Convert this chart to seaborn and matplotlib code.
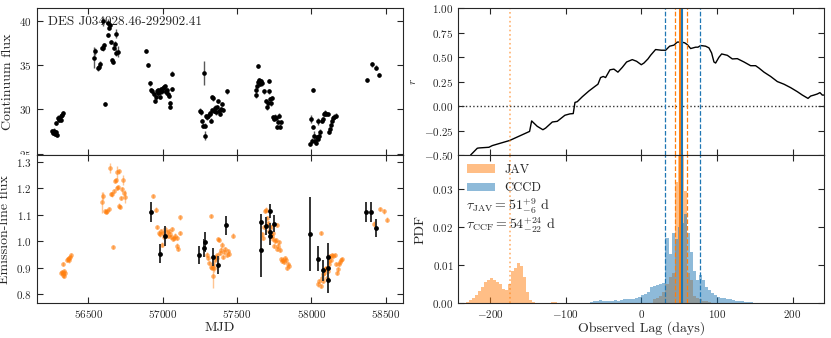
import numpy as np
import pandas as pd
import matplotlib
matplotlib.use('Agg')
import matplotlib.pyplot as plt
import matplotlib.transforms as mtransforms
import seaborn as sns

sns.set_style('ticks')
plt.rcParams['font.family'] = 'serif'
plt.rcParams['font.serif'] = ['cmr10']
plt.rcParams['mathtext.fontset'] = 'cm'
plt.rcParams['axes.formatter.use_mathtext'] = True
plt.rcParams['xtick.direction'] = 'in'
plt.rcParams['ytick.direction'] = 'in'
plt.rcParams['xtick.top'] = True
plt.rcParams['ytick.right'] = True
plt.rcParams['axes.edgecolor'] = '0.15'

ORANGE = '#ff7f0e'
BLUE = '#1f77b4'

# continuum light curve
cont_mjd = [56258, 56265, 56271, 56278, 56285, 56292, 56280, 56296, 56305, 56314, 56323, 56330, 56318, 56300,
            56538, 56545, 56563, 56572, 56581, 56590, 56599, 56608, 56612, 56599, 56630, 56639, 56645, 56652,
            56661, 56666, 56675, 56680, 56684, 56688, 56698, 56630,
            56888, 56903, 56913, 56922, 56930, 56940, 56949, 56955, 56962, 56971, 56980, 56989, 56998, 57007,
            57016, 57025, 57034, 57043, 57047, 57051, 57061, 57065, 56968, 56985, 57002, 57020, 57030,
            57278, 57251, 57256, 57263, 57273, 57285, 57285, 57298, 57307, 57316, 57325, 57330, 57341, 57347,
            57357, 57363, 57370, 57379, 57388, 57397, 57408, 57431, 57290, 57320, 57335, 57352, 57395,
            57643, 57626, 57630, 57635, 57639, 57648, 57655, 57661, 57666, 57684, 57693, 57700, 57706, 57715,
            57717, 57722, 57729, 57733, 57744, 57751, 57755, 57762, 57769, 57778, 57789, 57799, 57781,
            58013, 57996, 57991, 58002, 58009, 58018, 58024, 58031, 58038, 58043, 58047, 58054, 58060, 58070,
            58076, 58083, 58092, 58101, 58110, 58118, 58125, 58132, 58141, 58148, 58155, 58164,
            58372, 58410, 58433, 58455]
cont_flux = [27.50, 27.31, 27.61, 27.24, 27.43, 27.13, 28.47, 29.07, 28.99, 29.22, 29.37, 29.55, 28.84, 28.84,
             35.82, 36.56, 34.62, 34.77, 35.15, 36.94, 36.86, 37.23, 30.59, 39.92, 38.35, 39.18, 39.47, 37.61,
             35.52, 35.33, 36.94, 37.39, 38.51, 36.38, 36.49, 39.74,
             36.56, 35.00, 32.91, 32.16, 32.02, 31.71, 30.96, 31.34, 32.02, 32.16, 31.90, 32.27, 32.02, 32.53,
             32.64, 32.02, 31.71, 31.52, 30.67, 30.29, 32.27, 34.03, 31.80, 31.40, 32.40, 31.90, 32.20,
             34.14, 29.84, 29.66, 28.66, 28.16, 28.16, 27.04, 29.10, 29.28, 29.47, 28.72, 31.41, 31.23, 29.84,
             29.66, 30.29, 30.96, 29.84, 29.47, 30.59, 29.92, 32.02, 29.20, 29.60, 29.90, 30.20, 30.00,
             34.88, 32.16, 31.64, 32.64, 33.02, 33.28, 32.83, 33.14, 32.91, 32.02, 30.96, 30.22, 30.67, 32.02,
             33.20, 31.15, 30.67, 31.27, 29.10, 28.91, 29.17, 29.03, 27.98, 28.54, 28.05, 28.54, 29.28,
             32.16, 28.91, 26.11, 26.48, 27.98, 27.04, 26.48, 26.19, 26.86, 28.66, 26.67, 27.04, 27.49, 28.66,
             28.91, 29.47, 29.55, 29.47, 29.47, 27.42, 27.79, 28.28, 28.72, 29.03, 29.17, 29.28,
             33.32, 35.07, 34.70, 33.84]
cont_err = [0.25] * len(cont_flux)
for i, e in [(14, 1.15), (15, 0.4), (23, 0.5), (32, 0.5), (33, 0.4), (34, 0.6), (35, 0.4),
             (63, 1.35), (69, 0.5), (92, 0.4), (118, 0.45), (122, 0.5), (126, 0.4), (133, 0.35)]:
    cont_err[i] = e

# emission-line light curve (photometric, orange)
line_mjd = [56316, 56323, 56327, 56332, 56339, 56336, 56343, 56332, 56354, 56361, 56368, 56372, 56377, 56381,
            56590, 56596, 56612, 56619, 56628, 56637, 56646, 56652, 56661, 56668, 56673, 56679, 56686, 56691,
            56695, 56700, 56704, 56709, 56713, 56720, 56726, 56733, 56740, 56747,
            56937, 56953, 56964, 56975, 56982, 56991, 56998, 57004, 57011, 57018, 57027, 57034, 57040, 57049,
            57056, 57063, 57072, 57078, 57085, 57094, 57099, 57103, 57117, 57119,
            57300, 57307, 57314, 57323, 57327, 57332, 57336, 57341, 57347, 57354, 57359, 57363, 57368, 57374,
            57381, 57388, 57392, 57399, 57408, 57415, 57421, 57430, 57437, 57444, 57475,
            57666, 57677, 57682, 57688, 57695, 57699, 57706, 57713, 57717, 57726, 57733, 57740, 57744, 57749,
            57755, 57762, 57767, 57771, 57778, 57782, 57789, 57794, 57800, 57807, 57816, 57823, 57830, 57838,
            57845, 57852,
            58047, 58054, 58063, 58065, 58069, 58076, 58081, 58085, 58092, 58099, 58103, 58110, 58116, 58121,
            58125, 58132, 58139, 58148, 58159, 58166, 58175, 58182, 58188, 58193, 58199, 58206,
            58424, 58462, 58489, 58507]
line_flux = [0.879, 0.884, 0.871, 0.881, 0.869, 0.887, 0.879, 0.913, 0.931, 0.934, 0.938, 0.928, 0.942, 0.947,
             1.148, 1.170, 1.114, 1.110, 1.113, 1.123, 1.277, 1.180, 1.177, 0.978, 1.189, 1.227, 1.231, 1.261,
             1.202, 1.206, 1.264, 1.135, 1.130, 1.164, 1.196, 1.231, 1.183, 1.168,
             1.170, 1.120, 1.055, 1.030, 1.026, 1.038, 0.988, 1.032, 1.017, 1.045, 1.035, 1.022, 1.038, 1.026,
             1.017, 1.045, 1.009, 1.013, 1.022, 1.013, 0.984, 0.972, 1.032, 1.090,
             0.950, 0.938, 0.919, 0.904, 1.095, 0.900, 0.869, 0.913, 0.900, 0.931, 0.942, 0.947, 0.938, 1.009,
             1.004, 0.957, 0.969, 0.988, 0.942, 0.959, 0.972, 0.947, 0.963, 0.954, 1.022,
             1.026, 1.013, 1.055, 1.114, 1.120, 1.089, 1.070, 1.057, 1.038, 1.055, 1.022, 1.032, 1.009, 0.982,
             1.001, 1.004, 1.063, 0.972, 0.984, 0.997, 0.969, 0.934, 0.925, 0.931, 0.921, 0.938, 0.929, 0.900,
             0.913, 0.906,
             0.837, 0.850, 0.831, 1.032, 0.862, 0.875, 0.850, 0.881, 0.894, 0.900, 0.862, 0.887, 0.913, 0.925,
             0.944, 0.931, 0.947, 0.944, 0.947, 0.913, 0.879, 0.894, 0.913, 0.921, 0.929, 0.934,
             1.067, 1.123, 1.113, 1.082]
line_err = [0.008] * len(line_flux)
for i, e in [(14, 0.04), (15, 0.015), (20, 0.02), (27, 0.025), (35, 0.02), (37, 0.025),
             (68, 0.045), (70, 0.015), (129, 0.012)]:
    line_err[i] = e

# emission-line fluxes from spectra (black)
spec_mjd = [56919, 56982, 57016, 57247, 57282, 57280, 57341, 57372, 57426, 57659, 57659, 57693, 57722,
            57722, 57722, 57749, 57991, 58047, 58076, 58110, 58110, 58114, 58368, 58401, 58433]
spec_flux = [1.110, 0.954, 1.019, 0.948, 0.997, 0.975, 0.940, 0.910, 1.060, 1.074, 0.968, 1.057, 1.114,
             1.035, 1.022, 1.067, 1.028, 0.935, 0.890, 0.940, 0.900, 0.853, 1.110, 1.110, 1.051]
spec_err = [0.037, 0.037, 0.038, 0.035, 0.038, 0.035, 0.035, 0.035, 0.036, 0.028, 0.104, 0.033, 0.027,
            0.035, 0.036, 0.033, 0.140, 0.047, 0.038, 0.055, 0.047, 0.050, 0.038, 0.038, 0.034]

# cross-correlation function
ccf_lag = [-225.7, -216.9, -214.7, -201.5, -197.1, -174.2, -147.7, -145.0, -137.6, -130.1, -126.5, -117.7,
           -111.1, -101.0, -94.4, -90.0, -87.7, -84.7, -78.0, -69.2, -61.7, -57.3, -53.8, -50.3, -47.2,
           -41.4, -36.2, -30.9, -25.1, -19.4, -11.9, -6.2, 0.0, 3.5, 8.8, 12.3, 18.9, 26.5, 32.2, 37.5,
           43.2, 47.6, 52.9, 57.3, 60.8, 65.3, 71.9, 75.0, 78.5, 85.1, 89.5, 93.0, 96.1, 98.3, 102.7, 106.3,
           113.8, 120.4, 127.0, 135.8, 144.6, 151.2, 155.6, 162.3, 171.1, 179.9, 188.7, 197.5, 206.3, 213.0,
           220.5, 224.0, 228.4, 232.8, 236.3, 239.4, 242.9]
ccf_r = [-0.500, -0.431, -0.428, -0.421, -0.404, -0.352, -0.259, -0.152, -0.207, -0.242, -0.225, -0.163,
         -0.156, -0.094, -0.080, -0.077, 0.037, 0.044, 0.095, 0.154, 0.198, 0.223, 0.291, 0.302, 0.291,
         0.370, 0.377, 0.346, 0.395, 0.450, 0.474, 0.457, 0.422, 0.439, 0.481, 0.518, 0.577, 0.570, 0.570,
         0.611, 0.622, 0.653, 0.653, 0.646, 0.628, 0.587, 0.601, 0.601, 0.618, 0.611, 0.594, 0.542, 0.450,
         0.439, 0.498, 0.532, 0.518, 0.481, 0.484, 0.450, 0.412, 0.412, 0.388, 0.346, 0.302, 0.250, 0.223,
         0.188, 0.147, 0.112, 0.078, 0.102, 0.112, 0.123, 0.137, 0.112, 0.112]

# lag distributions (bin centres, 4 d bins)
jav_lag = [-230, -226, -222, -218, -214, -210, -206, -202, -198, -194, -190, -186, -182, -178, -174, -170,
           -166, -162, -158, -154, -150, -146, -142, -138, -134, -130, -118, -114, -102,
           18, 22, 26, 30, 34, 38, 42, 46, 50, 54, 58, 62, 66, 70, 74, 78, 82, 86, 90, 162, 170]
jav_pdf = [0.0004, 0.0008, 0.0013, 0.0021, 0.0033, 0.0044, 0.0055, 0.0062, 0.0066, 0.0061, 0.0056, 0.0050,
           0.0038, 0.0036, 0.0052, 0.0084, 0.0094, 0.0106, 0.0098, 0.0070, 0.0030, 0.0009, 0.0004, 0.0002,
           0.0001, 0.0001, 0.0004, 0.0003, 0.0001,
           0.0010, 0.0015, 0.0020, 0.0030, 0.0050, 0.0070, 0.0080, 0.0320, 0.0500, 0.0500, 0.0295, 0.0080,
           0.0060, 0.0020, 0.0015, 0.0010, 0.0007, 0.0005, 0.0003, 0.0002, 0.0002]
cccd_lag = [-66, -62, -58, -54, -50, -46, -42, -38, -34, -30, -26, -22, -18, -14, -10, -6, -2, 2, 6, 10,
            14, 18, 22, 26, 30, 34, 38, 42, 46, 50, 54, 58, 62, 66, 70, 74, 78, 82, 86, 90, 94, 98, 102,
            106, 110, 114, 118, 122, 126, 130, 134, 138, 142, 146, 150, 154, 158, 162, 166]
cccd_pdf = [0.0003, 0.0005, 0.0007, 0.0008, 0.0007, 0.0006, 0.0005, 0.0006, 0.0008, 0.0007, 0.0009, 0.0010,
            0.0011, 0.0010, 0.0012, 0.0014, 0.0016, 0.0021, 0.0025, 0.0030, 0.0042, 0.0046, 0.0048, 0.0050,
            0.0054, 0.0172, 0.0130, 0.0185, 0.0170, 0.0200, 0.0210, 0.0234, 0.0185, 0.0135, 0.0085, 0.0060,
            0.0075, 0.0062, 0.0042, 0.0035, 0.0028, 0.0022, 0.0016, 0.0015, 0.0014, 0.0012, 0.0011, 0.0008,
            0.0007, 0.0006, 0.0005, 0.0004, 0.0003, 0.0003, 0.0002, 0.0002, 0.0001, 0.0001, 0.0001]

tau_jav, jav_lo, jav_hi = 51, 6, 9
tau_ccf, ccf_lo, ccf_hi = 54, 22, 24
alias_lag = -174

jav_df = pd.DataFrame({'lag': jav_lag, 'pdf': jav_pdf})
cccd_df = pd.DataFrame({'lag': cccd_lag, 'pdf': cccd_pdf})

fig = plt.figure(figsize=(8.31, 3.38), dpi=100)
ax_c = fig.add_axes([0.0442, 0.5414, 0.4411, 0.4346])
ax_l = fig.add_axes([0.0442, 0.1027, 0.4411, 0.4387])
ax_r = fig.add_axes([0.5515, 0.5414, 0.4404, 0.4346])
ax_p = fig.add_axes([0.5515, 0.1027, 0.4404, 0.4387])

# ---- continuum
ax_c.text(0.03, 0.95, 'DES J034028.46-292902.41', transform=ax_c.transAxes, fontsize=9.5,
          va='top', ha='left', zorder=1)
ax_c.errorbar(cont_mjd, cont_flux, yerr=cont_err, fmt='none', ecolor='0.35', elinewidth=1, zorder=2)
sns.scatterplot(x=cont_mjd, y=cont_flux, color='k', s=11, linewidth=0, ax=ax_c, zorder=3)
ax_c.set_ylim(24.85, 41.4)
ax_c.set_yticks([25, 30, 35, 40])
ax_c.set_ylabel('Continuum flux', fontsize=10)

# ---- emission line
ax_l.errorbar(line_mjd, line_flux, yerr=line_err, fmt='none', ecolor=ORANGE, alpha=0.45, elinewidth=1, zorder=2)
sns.scatterplot(x=line_mjd, y=line_flux, color=ORANGE, alpha=0.6, s=11, linewidth=0, ax=ax_l, zorder=3)
ax_l.errorbar(spec_mjd, spec_flux, yerr=spec_err, fmt='none', ecolor='0.2', elinewidth=1.4, zorder=4)
sns.scatterplot(x=spec_mjd, y=spec_flux, color='k', s=12, linewidth=0, ax=ax_l, zorder=5)
ax_l.set_ylim(0.766, 1.326)
ax_l.set_yticks([0.8, 0.9, 1.0, 1.1, 1.2, 1.3])
ax_l.set_ylabel('Emission-line flux', fontsize=10)
ax_l.set_xlabel('MJD', fontsize=10, labelpad=1)

for ax in (ax_c, ax_l):
    ax.set_xlim(56153, 58618)
    ax.set_xticks([56500, 57000, 57500, 58000, 58500])
    ax.tick_params(labelsize=8, length=4, width=0.8)
ax_c.tick_params(labelbottom=False)

# the lowest continuum tick label is cut at the panel boundary, as in the original
top_half = mtransforms.TransformedBbox(mtransforms.Bbox([[0, 0.5414], [1, 1]]), fig.transFigure)
for tick in ax_c.yaxis.get_major_ticks():
    tick.label1.set_clip_box(top_half)
    tick.label1.set_clip_on(True)

# ---- CCF
sns.lineplot(x=ccf_lag, y=ccf_r, color='k', lw=1, ax=ax_r)
ax_r.axhline(0, color='0.2', ls=':', lw=1)
ax_r.set_ylim(-0.5, 1.0)
ax_r.set_yticks([-0.5, -0.25, 0, 0.25, 0.5, 0.75, 1.0])
ax_r.yaxis.set_major_formatter(matplotlib.ticker.FormatStrFormatter('$%.2f$'))
ax_r.set_ylabel('$r$', fontsize=8)

# ---- lag PDFs
sns.histplot(data=jav_df, x='lag', weights='pdf', binwidth=4, binrange=(-240, 240), stat='count',
             color=ORANGE, alpha=0.5, linewidth=0, label='JAV', ax=ax_p)
sns.histplot(data=cccd_df, x='lag', weights='pdf', binwidth=4, binrange=(-240, 240), stat='count',
             color=BLUE, alpha=0.5, linewidth=0, label='CCCD', ax=ax_p)
ax_p.set_ylim(0, 0.039)
ax_p.set_yticks([0, 0.01, 0.02, 0.03])
ax_p.yaxis.set_major_formatter(matplotlib.ticker.FormatStrFormatter('$%.2f$'))
ax_p.set_ylabel('PDF', fontsize=10)
ax_p.set_xlabel('Observed Lag (days)', fontsize=10, labelpad=1)
ax_p.legend(loc='upper left', frameon=False, fontsize=9, handlelength=2.2, borderaxespad=0.3)
ax_p.text(-232, 0.0245, r'$\tau_{\rm JAV} = %d^{+%d}_{-%d}$ d' % (tau_jav, jav_hi, jav_lo), fontsize=10)
ax_p.text(-232, 0.0195, r'$\tau_{\rm CCF} = %d^{+%d}_{-%d}$ d' % (tau_ccf, ccf_hi, ccf_lo), fontsize=10)

for ax in (ax_r, ax_p):
    ax.set_xlim(-242, 242)
    ax.set_xticks([-200, -100, 0, 100, 200])
    ax.tick_params(labelsize=8, length=4, width=0.8)
    ax.axvline(alias_lag, color=ORANGE, ls=':', lw=1.2, alpha=0.6)
    ax.axvline(tau_ccf - ccf_lo, color=BLUE, ls='--', lw=0.9)
    ax.axvline(tau_ccf + ccf_hi, color=BLUE, ls='--', lw=0.9)
    ax.axvline(tau_jav - jav_lo, color=ORANGE, ls='--', lw=0.9)
    ax.axvline(tau_jav + jav_hi, color=ORANGE, ls='--', lw=0.9)
    ax.axvline(tau_jav, color=ORANGE, lw=2.2)
    ax.axvline(tau_ccf, color=BLUE, lw=1.5)
ax_r.tick_params(labelbottom=False)

fig.savefig('out.png', dpi=100)
